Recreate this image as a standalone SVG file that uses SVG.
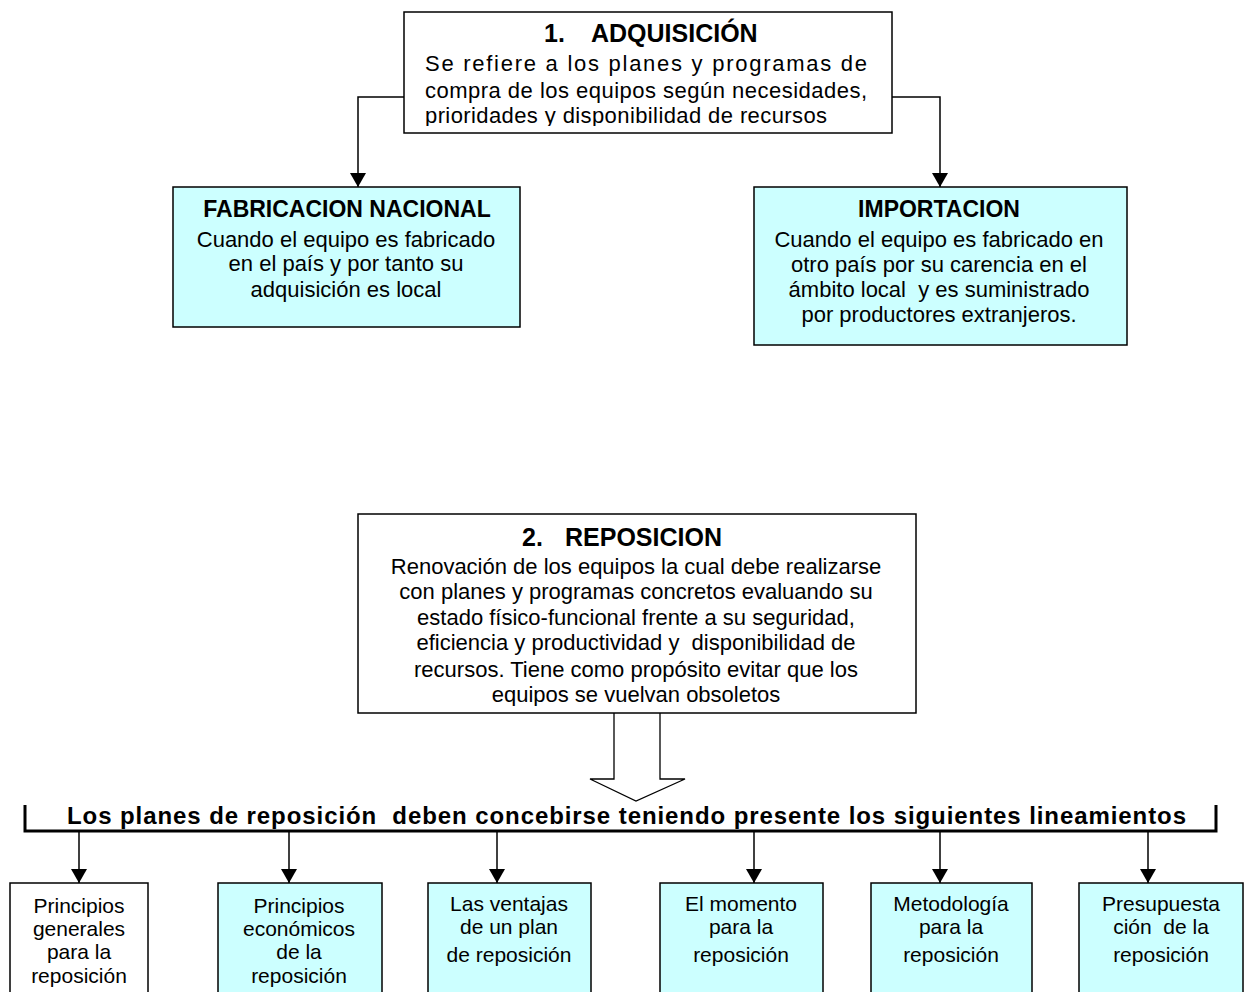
<svg xmlns="http://www.w3.org/2000/svg" width="1244" height="992" viewBox="0 0 1244 992">
  <style>
    .box { stroke: #000; stroke-width: 1.5; }
    .white { fill: #fff; }
    .cyan { fill: #ccffff; }
    .t { font-family: "Liberation Sans", Arial, sans-serif; font-size: 22px; fill: #000; }
    .title { font-weight: bold; font-size: 23px; }
    .big { font-size: 25px; }
    .mid { text-anchor: middle; }
    .sm { font-family: "Liberation Sans", Arial, sans-serif; font-size: 21px; text-anchor: middle; fill: #000; }
    .line { fill: none; stroke: #000; stroke-width: 1.5; }
  </style>
  <defs>
    <marker id="arr" viewBox="0 0 16 14" refX="16" refY="7" markerWidth="14" markerHeight="16" markerUnits="userSpaceOnUse" orient="auto" preserveAspectRatio="none">
      <path d="M0,0 L16,7 L0,14 z" fill="#000"/>
    </marker>
    <clipPath id="clip1"><rect x="403" y="12" width="488" height="114"/></clipPath>
    <clipPath id="clip2"><rect x="358" y="514" width="558" height="192"/></clipPath>
  </defs>

  <rect width="1244" height="992" fill="#fff"/>

  <!-- connectors -->
  <g id="connectors">
    <path class="line" d="M404,97 H358 V187" marker-end="url(#arr)"/>
    <path class="line" d="M892,97 H940 V187" marker-end="url(#arr)"/>
    <!-- hollow block arrow -->
    <path d="M614,713 V779 H590 L636,801 L685,779 H660 V713" fill="#fff" stroke="#000" stroke-width="1.3"/>
    <!-- bracket bar -->
    <path d="M25,805 V831 H1216 V805" fill="none" stroke="#000" stroke-width="3"/>
    <path class="line" d="M79,832 V883" marker-end="url(#arr)"/>
    <path class="line" d="M289,832 V883" marker-end="url(#arr)"/>
    <path class="line" d="M497,832 V883" marker-end="url(#arr)"/>
    <path class="line" d="M754,832 V883" marker-end="url(#arr)"/>
    <path class="line" d="M940,832 V883" marker-end="url(#arr)"/>
    <path class="line" d="M1148,832 V883" marker-end="url(#arr)"/>
  </g>

  <g id="adquisicion">
    <rect class="box white" x="404" y="12" width="488" height="121"/>
    <text class="t title big" x="544" y="42">1.</text>
    <text class="t title big" x="591" y="42">ADQUISICIÓN</text>
    <g clip-path="url(#clip1)">
      <text class="t" x="425" y="71" textLength="442" lengthAdjust="spacing">Se refiere a los planes y programas de</text>
      <text class="t" x="425" y="98" textLength="442" lengthAdjust="spacing">compra de los equipos según necesidades,</text>
      <text class="t" x="425" y="123" style="letter-spacing:0.4px">prioridades y disponibilidad de recursos</text>
    </g>
  </g>

  <g id="fabricacion">
    <rect class="box cyan" x="173" y="187" width="347" height="140"/>
    <text class="t title mid" x="347" y="217">FABRICACION NACIONAL</text>
    <text class="t mid" x="346" y="247">Cuando el equipo es fabricado</text>
    <text class="t mid" x="346" y="271">en el país y por tanto su</text>
    <text class="t mid" x="346" y="297">adquisición es local</text>
  </g>

  <g id="importacion">
    <rect class="box cyan" x="754" y="187" width="373" height="158"/>
    <text class="t title mid" x="939" y="217">IMPORTACION</text>
    <text class="t mid" x="939" y="247">Cuando el equipo es fabricado en</text>
    <text class="t mid" x="939" y="272">otro país por su carencia en el</text>
    <text class="t mid" x="939" y="297" xml:space="preserve">ámbito local  y es suministrado</text>
    <text class="t mid" x="939" y="322">por productores extranjeros.</text>
  </g>

  <g id="reposicion">
    <rect class="box white" x="358" y="514" width="558" height="199"/>
    <text class="t title big" x="522" y="546">2.</text>
    <text class="t title big" x="565" y="546">REPOSICION</text>
    <g clip-path="url(#clip2)">
      <text class="t mid" x="636" y="574">Renovación de los equipos la cual debe realizarse</text>
      <text class="t mid" x="636" y="599">con planes y programas concretos evaluando su</text>
      <text class="t mid" x="636" y="625">estado físico-funcional frente a su seguridad,</text>
      <text class="t mid" x="636" y="650" xml:space="preserve">eficiencia y productividad y  disponibilidad de</text>
      <text class="t mid" x="636" y="677">recursos. Tiene como propósito evitar que los</text>
      <text class="t mid" x="636" y="702">equipos se vuelvan obsoletos</text>
    </g>
  </g>

  <g id="lineamientos">
    <text class="t title" x="67" y="824" textLength="1119" lengthAdjust="spacing" xml:space="preserve" style="font-size:24px">Los planes de reposición  deben concebirse teniendo presente los siguientes lineamientos</text>
  </g>

  <g id="principios-generales">
    <rect class="box white" x="10" y="883" width="138" height="120"/>
    <text class="sm" x="79" y="913">Principios</text>
    <text class="sm" x="79" y="936">generales</text>
    <text class="sm" x="79" y="959">para la</text>
    <text class="sm" x="79" y="983">reposición</text>
  </g>

  <g id="principios-economicos">
    <rect class="box cyan" x="218" y="883" width="164" height="120"/>
    <text class="sm" x="299" y="913">Principios</text>
    <text class="sm" x="299" y="936">económicos</text>
    <text class="sm" x="299" y="959">de la</text>
    <text class="sm" x="299" y="983">reposición</text>
  </g>

  <g id="ventajas">
    <rect class="box cyan" x="428" y="883" width="163" height="120"/>
    <text class="sm" x="509" y="911">Las ventajas</text>
    <text class="sm" x="509" y="934">de un plan</text>
    <text class="sm" x="509" y="962">de reposición</text>
  </g>

  <g id="momento">
    <rect class="box cyan" x="660" y="883" width="163" height="120"/>
    <text class="sm" x="741" y="911">El momento</text>
    <text class="sm" x="741" y="934">para la</text>
    <text class="sm" x="741" y="962">reposición</text>
  </g>

  <g id="metodologia">
    <rect class="box cyan" x="871" y="883" width="161" height="120"/>
    <text class="sm" x="951" y="911">Metodología</text>
    <text class="sm" x="951" y="934">para la</text>
    <text class="sm" x="951" y="962">reposición</text>
  </g>

  <g id="presupuestacion">
    <rect class="box cyan" x="1079" y="883" width="164" height="120"/>
    <text class="sm" x="1161" y="911">Presupuesta</text>
    <text class="sm" x="1161" y="934" xml:space="preserve">ción  de la</text>
    <text class="sm" x="1161" y="962">reposición</text>
  </g>
</svg>
